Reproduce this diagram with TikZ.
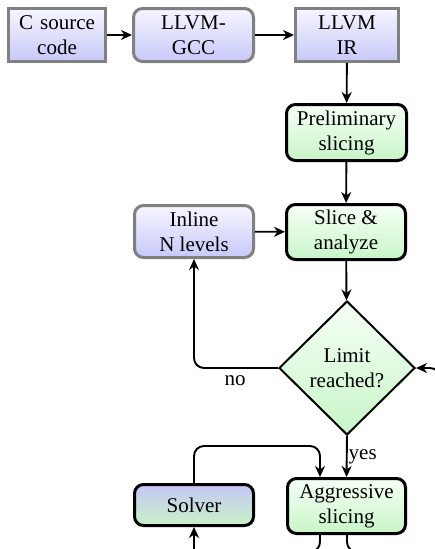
\documentclass[tikz,border=0pt]{standalone}
\usepackage{fontspec}
\setmainfont{Liberation Serif}
\usetikzlibrary{arrows.meta,shapes.geometric}
\definecolor{bluetop}{RGB}{246,246,255}
\definecolor{bluebot}{RGB}{200,200,250}
\definecolor{greentop}{RGB}{246,255,246}
\definecolor{greenbot}{RGB}{200,245,200}
\definecolor{solvertop}{RGB}{198,198,245}
\definecolor{solverbot}{RGB}{200,242,200}
\definecolor{graybd}{RGB}{128,128,128}
\tikzset{
  box/.style={draw, line width=3pt, inner sep=0pt, align=center,
    font=\fontsize{21}{25}\selectfont},
  graybox/.style={box, draw=graybd, top color=bluetop, bottom color=bluebot},
  greenbox/.style={box, draw=black, rounded corners=9pt, top color=greentop, bottom color=greenbot},
  decision/.style={diamond, draw=black, line width=2pt, inner sep=0pt, align=center,
    top color=greentop, bottom color=greenbot, font=\fontsize{21}{25}\selectfont},
  arr/.style={line width=1.9pt, -{Stealth[length=11pt,width=10pt,inset=3.5pt]}},
  lbl/.style={font=\fontsize{21}{25}\selectfont, inner sep=0pt}
}
\begin{document}
\begin{tikzpicture}[x=1pt,y=-1pt]
\useasboundingbox (0,0) rectangle (435,549);
\clip (0,0) rectangle (435,549);
\node[graybox, minimum width=97pt, minimum height=53pt] (src) at (57,35) {C\,\,source\\code};
\node[graybox, rounded corners=9pt, minimum width=120pt, minimum height=53pt] (gcc) at (193.5,35) {LLVM-\\GCC};
\node[graybox, minimum width=103pt, minimum height=53pt] (ir) at (347,35) {LLVM\\IR};
\node[greenbox, minimum width=120pt, minimum height=56pt] (pre) at (346.5,132.5) {Preliminary\\slicing};
\node[greenbox, minimum width=119pt, minimum height=55pt] (slice) at (346,232) {Slice \&\\analyze};
\node[graybox, rounded corners=9pt, minimum width=119pt, minimum height=52pt] (inl) at (194,231.5) {Inline\\N levels};
\node[decision, minimum width=136pt, minimum height=134pt] (lim) at (347,368) {Limit\\reached?};
\node[greenbox, minimum width=118pt, minimum height=55pt] (agg) at (346.5,506) {Aggressive\\slicing};
\node[box, draw=black, rounded corners=9pt, top color=solvertop, bottom color=solverbot,
  minimum width=119pt, minimum height=41pt] (sol) at (194,505) {Solver};

\draw[arr] (src) -- (gcc);
\draw[arr] (gcc) -- (ir);
\draw[arr] (ir) -- (pre);
\draw[arr] (pre) -- (slice);
\draw[arr] (inl) -- (slice);
\draw[arr] (slice) -- (lim);
\draw[arr, rounded corners=10pt] (lim.west) -| (inl.south);
\node[lbl] (no) at (235,381) {no};
\draw[arr] (lim.south) -- (agg.north) node[lbl, pos=0.5, right=1pt] (yes) {yes};
\coordinate (t) at (320,446);
\draw[arr, rounded corners=10pt] (sol.north) |- (t) -- (agg.north -| t);
\coordinate (b1) at (320,552);
\coordinate (b1l) at (194,556);
\draw[arr, rounded corners=10pt] (agg.south -| b1) -- (b1) [sharp corners] -- (b1 -| b1l) -- (sol.south);
\coordinate (b2) at (347,552);
\coordinate (rc) at (440,552);
\draw[arr, rounded corners=10pt] (agg.south -| b2) -- (b2) -- (rc) -- (rc |- lim.east) -- (lim.east);
\end{tikzpicture}
\end{document}
